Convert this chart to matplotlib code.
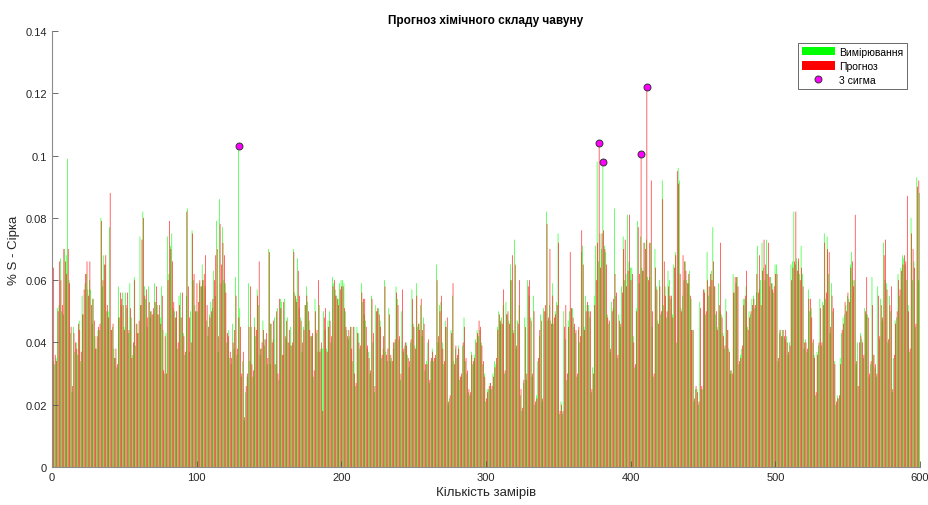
import numpy as np
import matplotlib
matplotlib.use("Agg")
from matplotlib import pyplot as plt
from matplotlib.patches import Patch
from matplotlib.lines import Line2D

plt.rcParams['font.family'] = ['Liberation Sans', 'DejaVu Sans']

# S content, thousandths of a percent, samples 1..600
measured = [
    34, 33, 35, 51, 52, 67, 50, 49, 70, 68, 99, 60, 43, 24, 45, 37, 40, 36, 47, 34, 55, 49, 59, 62, 57,
    60, 57, 46, 54, 42, 38, 44, 44, 80, 58, 68, 65, 50, 50, 77, 44, 45, 38, 35, 32, 58, 48, 52, 56, 45,
    56, 51, 43, 59, 48, 36, 61, 39, 46, 43, 74, 52, 82, 58, 54, 45, 58, 48, 50, 49, 59, 53, 52, 49, 48,
    58, 44, 30, 43, 74, 62, 71, 75, 51, 50, 48, 38, 55, 56, 48, 43, 36, 55, 83, 37, 50, 76, 60, 52, 50,
    50, 59, 58, 65, 60, 58, 47, 42, 49, 53, 51, 63, 55, 79, 37, 86, 59, 77, 60, 59, 40, 44, 35, 33, 46,
    38, 61, 36, 103, 51, 29, 34, 15, 24, 29, 59, 34, 45, 29, 48, 42, 57, 52, 36, 38, 47, 39, 41, 33, 70,
    33, 46, 41, 48, 33, 51, 28, 54, 53, 36, 54, 41, 48, 40, 45, 39, 70, 56, 54, 67, 51, 48, 37, 45, 52,
    58, 53, 47, 42, 42, 29, 54, 43, 37, 52, 38, 38, 50, 44, 38, 47, 50, 40, 61, 59, 57, 55, 54, 59, 60,
    60, 59, 50, 44, 41, 42, 45, 34, 45, 26, 45, 43, 38, 59, 53, 49, 47, 38, 37, 30, 55, 40, 24, 52, 50,
    51, 47, 35, 38, 60, 37, 34, 51, 34, 35, 38, 40, 58, 54, 41, 28, 50, 37, 39, 40, 36, 32, 40, 57, 46,
    39, 59, 45, 46, 52, 42, 48, 31, 34, 40, 27, 34, 38, 34, 35, 65, 40, 52, 53, 40, 33, 47, 45, 20, 22,
    44, 55, 34, 38, 35, 39, 28, 29, 39, 48, 34, 30, 24, 23, 37, 33, 36, 41, 44, 42, 44, 40, 33, 30, 21,
    25, 25, 27, 25, 30, 34, 33, 45, 50, 46, 48, 52, 30, 53, 49, 47, 65, 60, 44, 73, 38, 47, 52, 23, 18,
    27, 48, 28, 60, 55, 48, 29, 55, 20, 23, 34, 42, 49, 21, 51, 50, 82, 47, 52, 47, 59, 46, 50, 53, 75,
    17, 21, 17, 50, 41, 28, 47, 50, 51, 51, 45, 43, 29, 44, 40, 69, 71, 45, 55, 52, 52, 48, 24, 32, 55,
    71, 98, 66, 75, 70, 98, 71, 69, 49, 46, 37, 53, 51, 83, 55, 35, 49, 45, 58, 74, 60, 62, 81, 66, 64,
    64, 42, 32, 51, 79, 59, 74, 64, 63, 72, 73, 61, 61, 72, 45, 29, 70, 58, 47, 60, 49, 92, 52, 58, 48,
    63, 60, 54, 49, 65, 69, 40, 96, 92, 51, 55, 60, 66, 60, 59, 63, 54, 44, 21, 25, 25, 20, 53, 25, 25,
    57, 49, 69, 55, 58, 63, 77, 58, 49, 45, 59, 50, 49, 43, 38, 54, 44, 38, 30, 31, 62, 56, 59, 61, 33,
    36, 38, 54, 54, 58, 45, 50, 49, 54, 55, 51, 56, 71, 57, 60, 72, 64, 60, 73, 62, 58, 61, 59, 56, 65,
    65, 34, 43, 44, 42, 44, 41, 42, 36, 40, 65, 66, 82, 65, 67, 66, 62, 71, 62, 38, 41, 37, 57, 50, 51,
    40, 36, 23, 37, 39, 54, 39, 53, 75, 54, 74, 62, 43, 59, 50, 34, 20, 23, 22, 35, 43, 48, 49, 52, 55,
    54, 65, 69, 60, 60, 33, 40, 26, 43, 41, 35, 51, 49, 49, 29, 33, 61, 36, 32, 29, 58, 41, 54, 47, 72,
    60, 59, 40, 55, 50, 24, 35, 47, 48, 62, 55, 64, 68, 67, 65, 60, 52, 37, 80, 60, 66, 45, 93, 60, 88,
]

forecast = [
    64, 36, 34, 50, 66, 60, 52, 70, 66, 62, 70, 59, 45, 26, 43, 40, 38, 46, 44, 37, 49, 57, 62, 66, 55,
    66, 52, 54, 47, 38, 42, 45, 46, 79, 60, 65, 68, 52, 48, 88, 44, 46, 35, 38, 33, 48, 56, 54, 52, 44,
    52, 56, 44, 51, 35, 40, 60, 46, 43, 47, 52, 73, 80, 55, 57, 48, 53, 50, 49, 51, 53, 58, 49, 52, 46,
    55, 31, 42, 30, 60, 79, 70, 66, 53, 48, 50, 40, 52, 48, 56, 42, 37, 82, 58, 48, 40, 75, 62, 50, 59,
    53, 60, 58, 60, 62, 68, 52, 45, 48, 50, 54, 60, 68, 70, 42, 78, 65, 72, 68, 56, 43, 42, 37, 35, 40,
    44, 55, 38, 48, 45, 30, 37, 16, 26, 30, 45, 58, 33, 31, 45, 44, 55, 66, 38, 40, 44, 41, 43, 35, 69,
    46, 40, 47, 33, 50, 30, 54, 51, 36, 53, 42, 47, 40, 44, 39, 40, 69, 55, 53, 63, 55, 47, 40, 44, 52,
    55, 50, 44, 42, 43, 31, 50, 44, 60, 37, 40, 18, 48, 51, 37, 45, 47, 42, 58, 60, 55, 54, 52, 57, 58,
    58, 51, 45, 42, 44, 45, 38, 45, 30, 27, 43, 40, 39, 56, 54, 54, 45, 39, 35, 31, 54, 43, 26, 50, 51,
    49, 45, 36, 42, 58, 36, 38, 49, 36, 34, 40, 41, 56, 52, 42, 30, 57, 38, 40, 39, 35, 34, 41, 54, 45,
    38, 55, 46, 44, 54, 44, 46, 33, 33, 41, 28, 35, 37, 35, 36, 60, 42, 50, 55, 38, 34, 45, 48, 21, 23,
    43, 59, 33, 39, 36, 38, 29, 30, 40, 45, 35, 31, 25, 24, 36, 34, 35, 40, 43, 47, 45, 39, 34, 29, 22,
    24, 26, 27, 26, 29, 32, 35, 44, 49, 47, 46, 57, 31, 49, 50, 46, 60, 68, 43, 65, 39, 46, 60, 25, 19,
    28, 45, 30, 58, 60, 47, 30, 50, 21, 22, 35, 44, 47, 22, 50, 52, 78, 48, 70, 46, 55, 48, 49, 52, 72,
    18, 20, 18, 45, 52, 30, 45, 69, 51, 48, 46, 44, 30, 45, 42, 76, 65, 44, 50, 53, 50, 50, 25, 30, 52,
    60, 72, 104, 64, 75, 76, 70, 65, 48, 47, 38, 50, 54, 62, 56, 36, 47, 46, 56, 70, 73, 58, 63, 81, 60,
    62, 40, 33, 50, 77, 62, 100.5, 63, 72, 70, 122, 60, 72, 92, 50, 30, 64, 57, 46, 58, 50, 86, 66, 55, 50,
    58, 55, 55, 48, 64, 68, 95, 91, 62, 50, 68, 66, 63, 59, 62, 55, 44, 44, 22, 26, 24, 21, 51, 26, 57,
    56, 50, 60, 58, 62, 60, 66, 58, 50, 44, 52, 72, 48, 42, 39, 50, 44, 37, 31, 30, 56, 61, 61, 58, 34,
    35, 39, 52, 55, 63, 44, 48, 50, 52, 54, 52, 62, 56, 68, 52, 63, 73, 65, 62, 72, 61, 59, 57, 58, 62,
    62, 35, 44, 42, 44, 42, 44, 40, 37, 39, 60, 64, 66, 82, 63, 67, 60, 64, 58, 40, 40, 38, 54, 54, 48,
    41, 35, 24, 36, 40, 51, 40, 52, 72, 56, 70, 69, 45, 55, 51, 33, 21, 22, 23, 33, 44, 46, 53, 50, 56,
    53, 64, 66, 58, 81, 34, 26, 40, 42, 40, 36, 50, 61, 48, 30, 34, 52, 36, 33, 30, 55, 42, 52, 48, 68,
    73, 57, 41, 52, 58, 25, 36, 46, 50, 60, 57, 63, 65, 68, 66, 87, 50, 38, 75, 70, 64, 46, 90, 92, 89,
]

# samples flagged as outliers (3 sigma)
sigma_idx = [129, 378, 381, 407, 411]

measured = np.array(measured) / 1000.0
forecast = np.array(forecast) / 1000.0
n = np.arange(1, len(measured) + 1)

sig_y = [max(measured[i - 1], forecast[i - 1]) for i in sigma_idx]

fig = plt.figure(figsize=(9.29, 5.06), dpi=100)
ax = fig.add_axes([52 / 929, 38 / 506, 868 / 929, 436 / 506])

# grouped bars: green left, red right, no pixel snapping so thin bars blend
ax.bar(n - 0.2, measured, width=0.4, color=(0, 1, 0), linewidth=0, snap=False, antialiased=True)
ax.bar(n + 0.2, forecast, width=0.4, color=(1, 0, 0), linewidth=0, snap=False, antialiased=True)
ax.plot(sigma_idx, sig_y, 'o', ms=5, mfc=(1, 0, 1), mec='#333333', mew=0.7, ls='none')

ax.set_xlim(0, 600)
ax.set_ylim(0, 0.14)
ax.set_xticks(np.arange(0, 601, 100))
ax.set_yticks(np.arange(0, 0.141, 0.02))
ax.set_yticklabels(['0', '0.02', '0.04', '0.06', '0.08', '0.1', '0.12', '0.14'])

for s in ['top', 'right']:
    ax.spines[s].set_visible(False)
for s in ['left', 'bottom']:
    ax.spines[s].set_color('#8c8c8c')
    ax.spines[s].set_linewidth(0.8)
ax.tick_params(direction='in', length=4, width=0.6, color='#555555',
               labelsize=8, labelcolor='#262626')

ax.set_title('Прогноз хімічного складу чавуну', fontsize=8.5, fontweight='bold', pad=6)
ax.set_xlabel('Кількість замірів', fontsize=9.5, color='#262626', labelpad=3)
ax.set_ylabel('% S - Сірка', fontsize=9.5, color='#262626', labelpad=4)

handles = [
    Patch(facecolor=(0, 1, 0), edgecolor='none', label='Вимірювання'),
    Patch(facecolor=(1, 0, 0), edgecolor='none', label='Прогноз'),
    Line2D([], [], marker='o', ls='none', ms=5, mfc=(1, 0, 1), mec='#333333',
           mew=0.7, label='3 сигма'),
]
leg = ax.legend(handles=handles, loc='upper right', bbox_to_anchor=(907 / 929, 1 - 44 / 506),
                bbox_transform=fig.transFigure, fontsize=7.5, frameon=True, fancybox=False,
                handlelength=3.2, handleheight=0.9, handletextpad=0.4, borderpad=0.35,
                labelspacing=0.4, borderaxespad=0)
leg.get_frame().set_edgecolor('#262626')
leg.get_frame().set_linewidth(0.6)

fig.savefig('out.png', dpi=100)
